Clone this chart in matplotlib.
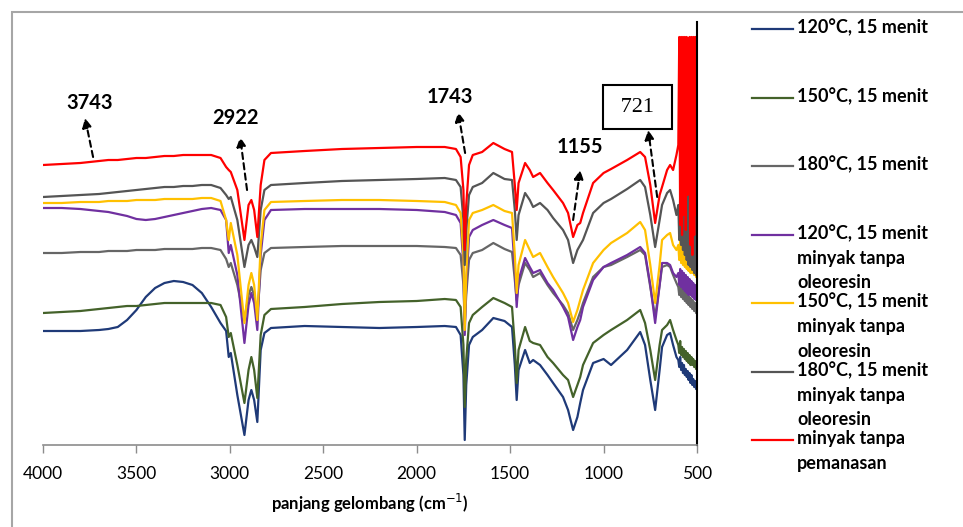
import numpy as np
import matplotlib
matplotlib.use("Agg")
import matplotlib.pyplot as plt
from matplotlib.lines import Line2D
from matplotlib.patches import Rectangle

plt.rcParams['font.family'] = ['Lato', 'DejaVu Sans']

# ---- wavenumber grid (cm-1) ----
wn_main = [4000, 3900, 3800, 3700, 3650, 3600, 3550, 3500, 3450, 3400,
           3350, 3300, 3250, 3200, 3150, 3100, 3050, 3020, 3006, 2995,
           2960, 2922, 2900, 2885, 2870, 2853, 2835, 2815, 2780, 2600,
           2400, 2200, 2000, 1850, 1790, 1765, 1750, 1743, 1735, 1720,
           1700, 1650, 1590, 1530, 1490, 1475, 1465, 1455, 1420, 1395,
           1377, 1340, 1300, 1270, 1217, 1190, 1163, 1140, 1125, 1110,
           1056, 1000, 960, 874, 804, 778, 750, 724, 700, 687,
           660, 644, 628, 610]
wn_tail = [600, 595, 590, 585, 580, 575, 570, 565, 560, 555,
           550, 545, 540, 535, 530, 525, 520, 515, 510, 505, 500]

# ---- transmittance (arbitrary units, stacked) ----
t_120 = [114, 114, 114, 115, 116, 118, 125, 135, 148, 157,
         162, 164, 163, 160, 152, 138, 122, 114, 88, 92,
         50, 10, 45, 55, 45, 23, 95, 112, 117, 119,
         118, 117, 118, 119, 118, 110, 70, 5, 60, 100,
         108, 115, 127, 124, 118, 80, 45, 75, 95, 82,
         85, 80, 70, 62, 48, 35, 15, 28, 42, 55,
         82, 86, 80, 95, 113, 100, 65, 35, 75, 98,
         110, 112, 100, 88]
t_120_tail = [85, 78, 88, 75, 82, 72, 80, 70, 76, 68, 74,
              65, 72, 62, 70, 60, 66, 58, 64, 56, 60]

t_150 = [132, 133, 134, 136, 137, 138, 139, 139, 140, 141,
         142, 142, 142, 142, 142, 142, 140, 128, 108, 112,
         80, 42, 75, 88, 75, 47, 110, 130, 136, 138,
         141, 143, 144, 146, 145, 138, 100, 38, 85, 122,
         130, 138, 147, 142, 138, 100, 62, 95, 118, 104,
         102, 100, 88, 82, 70, 65, 48, 60, 68, 80,
         102, 110, 115, 125, 135, 122, 95, 65, 100, 115,
         120, 125, 115, 105]
t_150_tail = [100, 92, 104, 90, 98, 88, 96, 86, 94, 84, 92,
              82, 90, 80, 88, 80, 86, 78, 84, 76, 80]

t_180 = [192, 192, 193, 193, 194, 194, 194, 195, 195, 195,
         196, 196, 196, 196, 197, 197, 195, 186, 178, 182,
         160, 125, 150, 158, 150, 130, 175, 192, 197, 198,
         199, 199, 199, 198, 197, 190, 160, 120, 150, 185,
         192, 195, 202, 196, 193, 165, 145, 160, 182, 175,
         168, 172, 160, 152, 140, 132, 115, 125, 133, 142,
         168, 178, 180, 188, 195, 190, 158, 128, 160, 178,
         180, 178, 170, 162]
t_180_tail = [158, 150, 160, 148, 156, 146, 154, 144, 152, 142, 150,
              140, 148, 138, 146, 136, 144, 134, 142, 132, 136]

t_120_no = [237, 237, 236, 234, 233, 231, 229, 226, 225, 226,
            228, 230, 232, 234, 236, 237, 235, 225, 192, 200,
            170, 102, 140, 152, 142, 115, 190, 225, 235, 236,
            236, 236, 235, 233, 230, 222, 180, 110, 160, 208,
            215, 220, 225, 220, 217, 175, 138, 165, 187, 178,
            172, 175, 162, 155, 138, 128, 105, 118, 125, 138,
            165, 178, 182, 190, 198, 192, 160, 122, 160, 182,
            182, 180, 172, 168]
t_120_no_tail = [172, 160, 176, 158, 174, 156, 172, 154, 170, 152, 168,
                 150, 166, 150, 164, 148, 162, 146, 160, 145, 150]

t_150_no = [242, 242, 243, 243, 244, 244, 244, 245, 245, 245,
            246, 246, 246, 246, 247, 247, 244, 225, 205, 222,
            190, 122, 160, 172, 160, 125, 200, 235, 243, 244,
            245, 245, 244, 243, 240, 232, 190, 115, 170, 225,
            232, 235, 240, 234, 232, 190, 152, 180, 205, 195,
            188, 192, 178, 168, 152, 142, 123, 135, 145, 155,
            182, 195, 202, 212, 223, 215, 180, 142, 180, 205,
            210, 212, 200, 195]
t_150_no_tail = [200, 185, 205, 182, 200, 180, 198, 178, 196, 176, 194,
                 174, 192, 172, 190, 172, 188, 170, 186, 168, 180]

t_180_no = [248, 249, 250, 251, 252, 253, 254, 255, 256, 257,
            258, 258, 259, 259, 260, 260, 257, 250, 246, 248,
            225, 178, 200, 205, 198, 188, 235, 255, 260, 262,
            264, 265, 266, 267, 265, 258, 225, 180, 215, 250,
            258, 262, 272, 266, 265, 235, 205, 230, 252, 245,
            238, 242, 235, 227, 215, 205, 182, 195, 200, 205,
            232, 242, 246, 256, 265, 258, 230, 198, 225, 240,
            252, 255, 245, 230]
t_180_no_tail = [240, 205, 250, 200, 245, 195, 240, 190, 235, 185, 300,
                 180, 320, 178, 290, 175, 260, 172, 240, 170, 180]

t_raw = [280, 281, 282, 284, 285, 285, 286, 287, 287, 288,
         289, 289, 290, 290, 290, 290, 287, 278, 275, 273,
         255, 205, 240, 245, 235, 208, 260, 285, 292, 294,
         296, 297, 298, 298, 296, 288, 255, 195, 240, 280,
         290, 293, 302, 296, 293, 260, 235, 262, 282, 275,
         268, 272, 262, 255, 242, 232, 208, 220, 222, 232,
         262, 272, 276, 285, 293, 288, 260, 222, 250, 258,
         275, 280, 275, 290]
t_raw_tail = [300, 408, 220, 408, 210, 408, 230, 408, 215, 408, 250,
              380, 408, 200, 408, 190, 408, 210, 408, 230, 408]

labels = ['120°C, 15 menit', '150°C, 15 menit', '180°C, 15 menit',
          '120°C, 15 menit\nminyak tanpa\noleoresin',
          '150°C, 15 menit\nminyak tanpa\noleoresin',
          '180°C, 15 menit\nminyak tanpa\noleoresin',
          'minyak tanpa\npemanasan']
colors = ['#1f3a78', '#44622a', '#666666', '#7030a0', '#ffc000', '#555555', '#ff0000']
series = [(t_120, t_120_tail), (t_150, t_150_tail), (t_180, t_180_tail),
          (t_120_no, t_120_no_tail), (t_150_no, t_150_no_tail),
          (t_180_no, t_180_no_tail), (t_raw, t_raw_tail)]

# peak labels
peaks = ['3743', '2922', '1743', '1155']

W, H = 963, 527
fig = plt.figure(figsize=(W / 100, H / 100), dpi=100)

# outer chart border
fig.patches.append(Rectangle((12 / W, -0.1), 1.2, 1.1 - 12 / H, transform=fig.transFigure,
                             fill=False, ec='#a6a6a6', lw=1.5))

ax = fig.add_axes([43 / W, 1 - 445 / H, (697 - 43) / W, (445 - 22) / H])
wn_all = np.array(wn_main + wn_tail)
for (main, tail), c, lab in zip(series, colors, labels):
    ax.plot(wn_all, main + tail, color=c, lw=1.6, label=lab)

ax.set_xlim(4000, 500)
ax.set_ylim(0, 423)
ax.set_xticks(np.arange(4000, 499, -500))
ax.set_yticks([])
for s in ['left', 'top']:
    ax.spines[s].set_visible(False)
ax.spines['bottom'].set_color('#8c8c8c')
ax.spines['bottom'].set_linewidth(1.2)
ax.spines['right'].set_color('black')
ax.spines['right'].set_linewidth(1.5)
ax.tick_params(axis='x', direction='out', length=6, width=1, color='#8c8c8c',
               labelsize=12.5, pad=9)
ax.set_xlabel('panjang gelombang (cm$^{-1}$)', fontsize=12, fontweight='bold', labelpad=7)

# ---- peak annotations ----
ann = [(peaks[0], (3748, 342), (3775, 327), (3732, 288)),
       (peaks[1], (2972, 327), (2945, 308), (2908, 255)),
       (peaks[2], (1821, 348), (1778, 333), (1741, 292)),
       (peaks[3], (1125, 298), (1125, 275), (1163, 225))]
for txt, tpos, head, tail in ann:
    ax.text(tpos[0], tpos[1], txt, ha='center', va='center', fontsize=14.5, fontweight='bold')
    ax.annotate('', xy=head, xytext=tail,
                arrowprops=dict(arrowstyle='-|>', ls=(0, (3, 2)), color='black', lw=1.5,
                                mutation_scale=14, shrinkA=0, shrinkB=0))
ax.text(820, 338, ' 721 ', ha='center', va='center', fontsize=16,
        family=['Liberation Serif'],
        bbox=dict(boxstyle='square,pad=0.55', fc='white', ec='black', lw=1.5))
ax.annotate('', xy=(761, 315), xytext=(713, 248),
            arrowprops=dict(arrowstyle='-|>', ls=(0, (3, 2)), color='black', lw=1.5,
                            mutation_scale=14, shrinkA=0, shrinkB=0))

# ---- legend (entries aligned to first text line, like Excel) ----
for i, (c, lab) in enumerate(zip(colors, labels)):
    y = 29 + i * 68.5
    fig.add_artist(Line2D([752 / W, 793 / W], [1 - y / H, 1 - y / H], color=c, lw=1.6))
    fig.text(797 / W, 1 - (y - 10) / H, lab, ha='left', va='top', fontsize=13,
             fontweight='bold', linespacing=1.55)

fig.savefig('out.png', dpi=100)
